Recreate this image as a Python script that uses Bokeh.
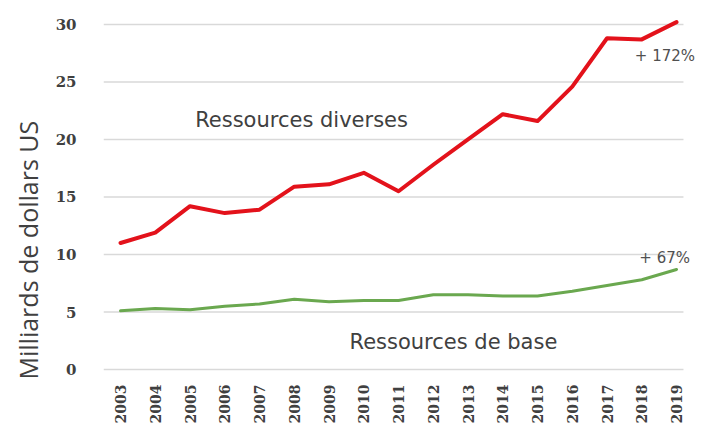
import math
from bokeh.plotting import figure
from bokeh.models import Range1d, FixedTicker, Label, Title
from bokeh.embed import file_html
from bokeh.resources import INLINE

years = list(range(2003, 2020))
diverses = [11.0, 11.9, 14.2, 13.6, 13.9, 15.9, 16.1, 17.1, 15.5, 17.8, 20.0, 22.2, 21.6, 24.6, 28.8, 28.7, 30.2]
base = [5.1, 5.3, 5.2, 5.5, 5.7, 6.1, 5.9, 6.0, 6.0, 6.5, 6.5, 6.4, 6.4, 6.8, 7.3, 7.8, 8.7]
y_ticks = [0, 5, 10, 15, 20, 25, 30]

X0, X1 = 2002.51, 2019.69
GRID_END = 2019.2

p = figure(width=700, height=426, output_backend="svg", toolbar_location=None,
           x_range=Range1d(X0, X1), y_range=Range1d(-0.26, 31.04),
           min_border_left=103, min_border_right=0, min_border_top=12, min_border_bottom=53)
p.outline_line_color = None
p.background_fill_color = "white"

# horizontal gridlines (stop short of the annotation area on the right)
p.segment(x0=[X0] * len(y_ticks), x1=[GRID_END] * len(y_ticks), y0=y_ticks, y1=y_ticks,
          line_color="#d9d9d9", line_width=1.5)

p.line(years, diverses, line_color="#e3121b", line_width=4, line_join="round", line_cap="round")
p.line(years, base, line_color="#6aa84f", line_width=3, line_join="round", line_cap="round")

p.xgrid.grid_line_color = None
p.ygrid.grid_line_color = None
p.yaxis.ticker = FixedTicker(ticks=y_ticks)
p.xaxis.ticker = FixedTicker(ticks=years)

for ax in (p.xaxis, p.yaxis):
    ax.axis_line_color = None
    ax.major_tick_line_color = None
    ax.minor_tick_line_color = None
    ax.major_label_text_font = "DejaVu Serif"
    ax.major_label_text_font_style = "bold"
    ax.major_label_text_color = "#404040"

p.yaxis.major_label_text_font_size = "15px"
p.yaxis.major_label_standoff = 21
p.xaxis.major_label_text_font_size = "14px"
p.xaxis.major_label_orientation = math.pi / 2
p.xaxis.major_label_standoff = 6

ylab = Title(text="Milliards de dollars US", align="left", offset=-7, vertical_align="middle",
             text_font="Open Sans", text_font_size="25px", text_font_style="normal",
             text_color="#404040", standoff=14)
p.add_layout(ylab, "left")

p.add_layout(Label(x=2008.21, y=21.7, text="Ressources diverses", text_align="center",
                   text_baseline="middle", text_font="DejaVu Sans", text_font_size="21px",
                   text_color="#404040"))
p.add_layout(Label(x=2012.58, y=2.4, text="Ressources de base", text_align="center",
                   text_baseline="middle", text_font="DejaVu Sans", text_font_size="21px",
                   text_color="#404040"))
p.add_layout(Label(x=2017.8, y=27.3, text="+ 172%", text_align="left",
                   text_baseline="middle", text_font="DejaVu Sans", text_font_size="15px",
                   text_color="#505050"))
p.add_layout(Label(x=2017.93, y=9.7, text="+ 67%", text_align="left",
                   text_baseline="middle", text_font="DejaVu Sans", text_font_size="15px",
                   text_color="#505050"))

open("out.html", "w").write(file_html(p, INLINE))
